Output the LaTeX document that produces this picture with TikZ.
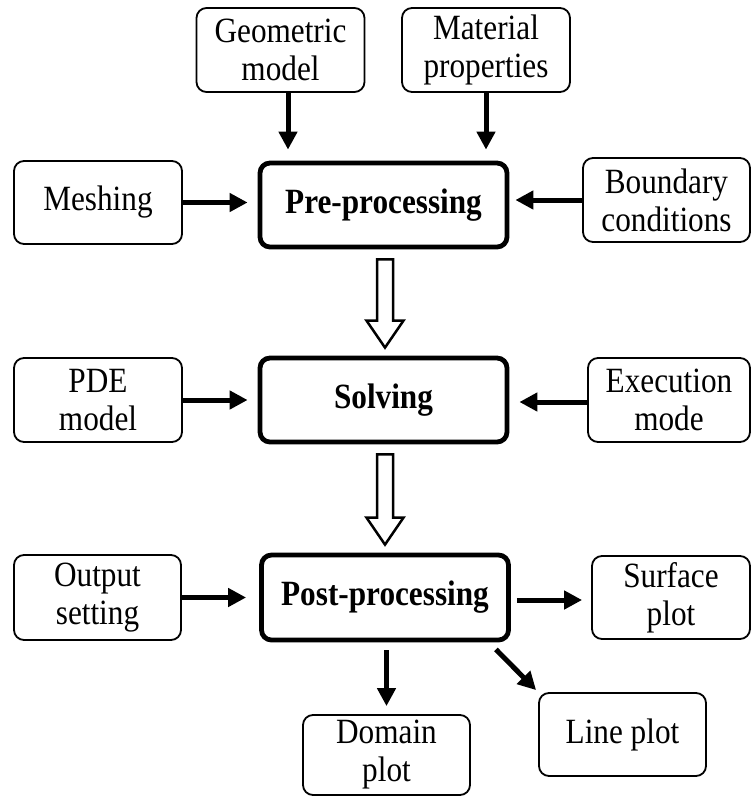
\documentclass[tikz,border=0pt]{standalone}
\usepackage{fontspec}
\setmainfont{Liberation Serif}[FakeStretch=0.88]
\usetikzlibrary{arrows.meta,calc}

\tikzset{
  box/.style={draw, line width=1.8pt, rounded corners=10pt, align=center,
    minimum width=168pt, minimum height=84pt, inner sep=2pt,
    font=\fontsize{35.5}{38}\selectfont},
  mainbox/.style={box, line width=4.8pt, minimum width=247pt, font=\fontsize{35.5}{38}\selectfont\bfseries},
  arr/.style={line width=5pt, -{Triangle[length=18pt,width=18pt]}},
  hollow/.style={draw, line width=2.5pt, fill=white, line join=miter}
}

\begin{document}
\begin{tikzpicture}[x=1pt, y=-1pt]
        \useasboundingbox (0,0) rectangle (751,796);
        \node[box] (geo) at (280.5,50) {Geometric\\model};
        \node[box] (mat) at (486,50) {Material\\properties};
        \node[mainbox] (pre) at (383.5,205) {Pre-processing};
        \node[box, minimum height=83pt] (mesh) at (98,202.5) {Meshing};
        \node[box, minimum width=167pt] (bound) at (666.5,200) {Boundary\\conditions};
        \node[mainbox] (solve) at (383.5,400) {Solving};
        \node[box] (pde) at (98,400) {PDE\\model};
        \node[box, minimum width=162pt] (exec) at (669,400) {Execution\\mode};
        \node[mainbox, minimum height=85pt] (post) at (385,597.5) {Post-processing};
        \node[box, minimum width=167pt, minimum height=85pt] (out) at (97.5,597.5) {Output\\setting};
        \node[box, minimum width=158pt, minimum height=83pt] (surf) at (671,597.5) {Surface\\plot};
        \node[box, minimum width=167pt, minimum height=80pt] (dom) at (386.5,755) {Domain\\plot};
        \node[box, minimum width=167pt, minimum height=83pt] (line) at (622.5,734.5) {Line plot};
        \draw[arr, shorten >=11pt] ([xshift=7.5pt]geo.south) to ([xshift=7.5pt]geo.south |- pre.north);
        \draw[arr, shorten >=11pt] (mat.south) to (mat.south |- pre.north);
        \draw[arr, shorten >=10pt] (mesh.east) to (mesh.east -| pre.west);
        \draw[arr, shorten >=6pt] (bound.west) to (bound.west -| pre.east);
        \draw[arr, shorten >=10pt] (pde.east) to (pde.east -| solve.west);
        \draw[arr, shorten >=10pt] ([yshift=-2pt]exec.west) to ([yshift=-2pt]exec.west -| solve.east);
        \draw[arr, shorten >=13pt] (out.east) to (out.east -| post.west);
        \draw[arr, shorten <=6pt, shorten >=9pt] ([yshift=-2.5pt]post.east) to ([yshift=-2.5pt]post.east -| surf.west);
        \draw[arr, shorten <=8pt, shorten >=8pt] (post.south -| dom.north) to (dom.north);
        \draw[arr] ($(post.south east)+(-15,7)$) to ($(line.north west)+(-2,-2)$);
        \draw[hollow] ($(pre.south)+(-6.5,10)$) -- ($(pre.south)+(9.5,10)$)
          -- ($(solve.north)+(9.5,-35)$) -- ($(solve.north)+(20,-35)$) -- ($(solve.north)+(1.5,-8)$)
          -- ($(solve.north)+(-17,-35)$) -- ($(solve.north)+(-6.5,-35)$) -- cycle;
        \draw[hollow] ($(solve.south)+(-6.5,10)$) -- ($(solve.south)+(9.5,10)$)
          -- ($(post.north)+(8,-35)$) -- ($(post.north)+(18.5,-35)$) -- ($(post.north)+(0,-8)$)
          -- ($(post.north)+(-18.5,-35)$) -- ($(post.north)+(-8,-35)$) -- cycle;
      \end{tikzpicture}
\end{document}
